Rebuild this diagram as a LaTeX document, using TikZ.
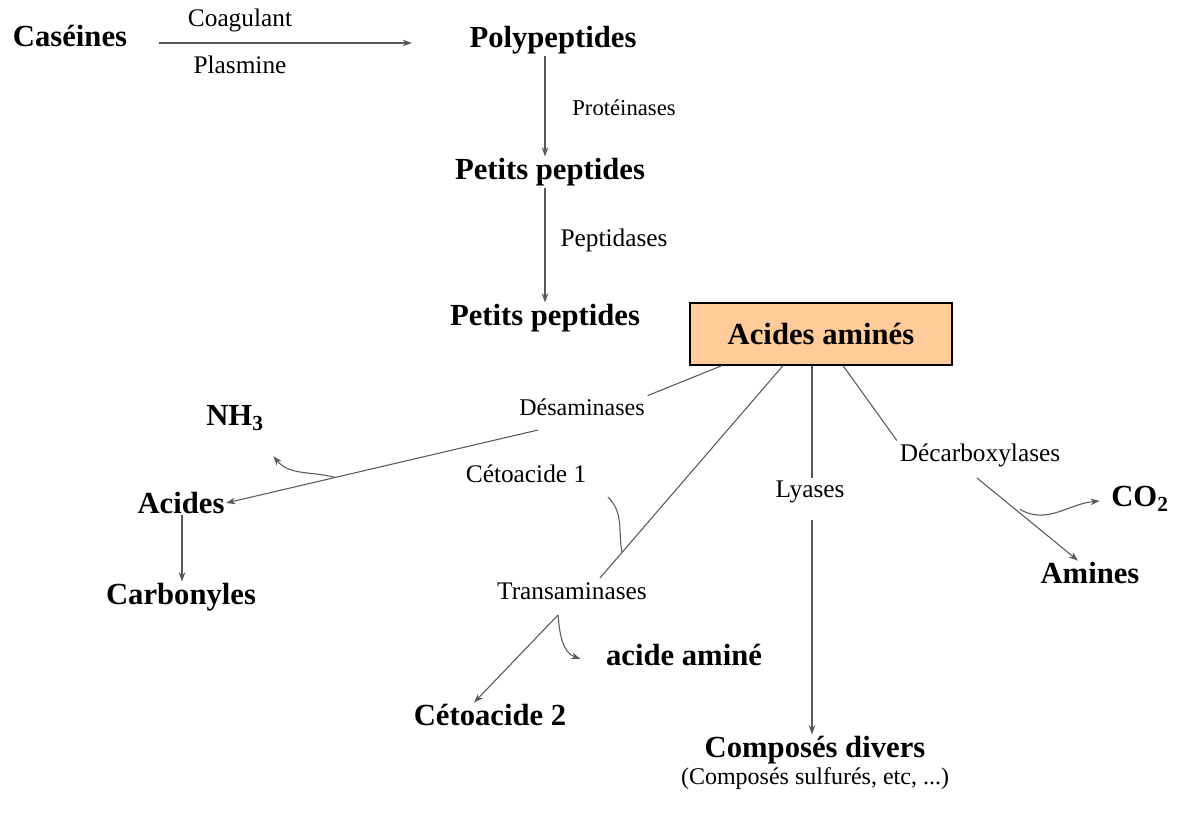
\documentclass[tikz,border=0pt]{standalone}
\usepackage{fontspec}
\setmainfont{Liberation Serif}
\usetikzlibrary{arrows.meta,positioning,calc}

\definecolor{peche}{RGB}{255,204,153}

\begin{document}
\begin{tikzpicture}[x=0.75pt,y=-0.75pt,
    prod/.style={font=\fontsize{23}{27}\selectfont\bfseries, inner sep=1pt},
    enz/.style={font=\fontsize{19}{22}\selectfont, inner sep=2pt},
    aabox/.style={draw, line width=1.4pt, fill=peche, minimum width=196pt, minimum height=46pt, font=\fontsize{23}{27}\selectfont\bfseries},
    arr/.style={-{Stealth[length=7pt,width=5pt]}, black!65, line width=0.8pt},
    ln/.style={black!65, line width=0.8pt}
]
\useasboundingbox (0,0) rectangle (1182,814);

% produits
\node[prod] (cas) at (70,36) {Caséines};
\node[prod] (poly) at (553,40) {Polypeptides};
\node[prod] (pp1) at (550,172) {Petits peptides};
\node[prod] (pp2) at (545,318) {Petits peptides};
\node[aabox] (AA) at (821,334) {Acides aminés};
\node[prod] (nh3) at (235,418) {NH\textsubscript{3}};
\node[prod] (acides) at (181,503) {Acides};
\node[prod] (carbo) at (181,597) {Carbonyles};
\node[prod] (aam) at (684,655) {acide aminé};
\node[prod] (ceto2) at (490,715) {Cétoacide 2};
\node[prod] (divers) at (815,750) {Composés divers};
\node[enz, below=-1pt of divers, font=\fontsize{18}{21}\selectfont] (sulf) {(Composés sulfurés, etc, ...)};
\node[prod] (co2) at (1140,499) {CO\textsubscript{2}};
\node[prod] (amines) at (1090,573) {Amines};

% enzymes
\node[enz] (coag) at (240,20) {Coagulant};
\node[enz] (plas) at (240,65) {Plasmine};
\node[enz, font=\fontsize{17}{20}\selectfont] (prot) at (624,108) {Protéinases};
\node[enz] (pepti) at (614,240) {Peptidases};
\node[enz, font=\fontsize{18}{21}\selectfont] (desam) at (582,407) {Désaminases};
\node[enz] (ceto1) at (526,474) {Cétoacide 1};
\node[enz] (trans) at (572,591) {Transaminases};
\node[enz] (lyases) at (810,492) {Lyases};
\node[enz] (decarb) at (980,455) {Décarboxylases};

% points de jonction
\coordinate (d1) at (538,430);
\coordinate (d2) at ($(d1)!0.65!(acides.east)$);
\coordinate (t0) at (600,578);
\coordinate (k1) at (608,497);
\coordinate (k2) at ($(AA.south -| 783,0)!0.88!(t0)$);
\coordinate (t1) at (558,615);
\coordinate (b1) at (977,478);
\coordinate (b2) at ($(b1)!0.38!(amines.north)$);

\draw[arr] (cas.east |- 0,43) ++(30,0) -- (412,43);
\draw[arr] (poly.south -| 545,0) -- (pp1.north -| 545,0);
\draw[arr] (pp1.south -| 545,0) -- (pp2.north -| 545,0);
\draw[arr] (acides.south -| 182,0) -- (carbo.north -| 182,0);

% desamination
\draw[ln] (AA.south -| 722,0) -- (desam.north east);
\draw[arr] (d1) -- (acides.east);
\draw[arr] (d2) to[out=165,in=-50] ($(nh3.south east)+(8,24)$);

% transamination
\draw[ln] (AA.south -| 783,0) -- (t0);
\draw[ln] (k1) to[out=-45,in=100] (k2);
\draw[arr] (t1) -- ($(ceto2.north)+(-16,0)$);
\draw[arr] (t1) to[out=-85,in=160] ($(aam.west)+(-24,4)$);

% lyases
\draw[ln] (AA.south -| 812,0) -- (lyases.north -| 812,0);
\draw[arr] (lyases.south -| 812,0) ++(0,14) -- (divers.north -| 812,0);

% decarboxylation
\draw[ln] (AA.south -| 843,0) -- (decarb.north west);
\draw[arr] (b1) -- ($(amines.north)+(-12,0)$);
\draw[arr] (b2) to[out=-30,in=185] ($(co2.west)+(-10,2)$);
\end{tikzpicture}
\end{document}
